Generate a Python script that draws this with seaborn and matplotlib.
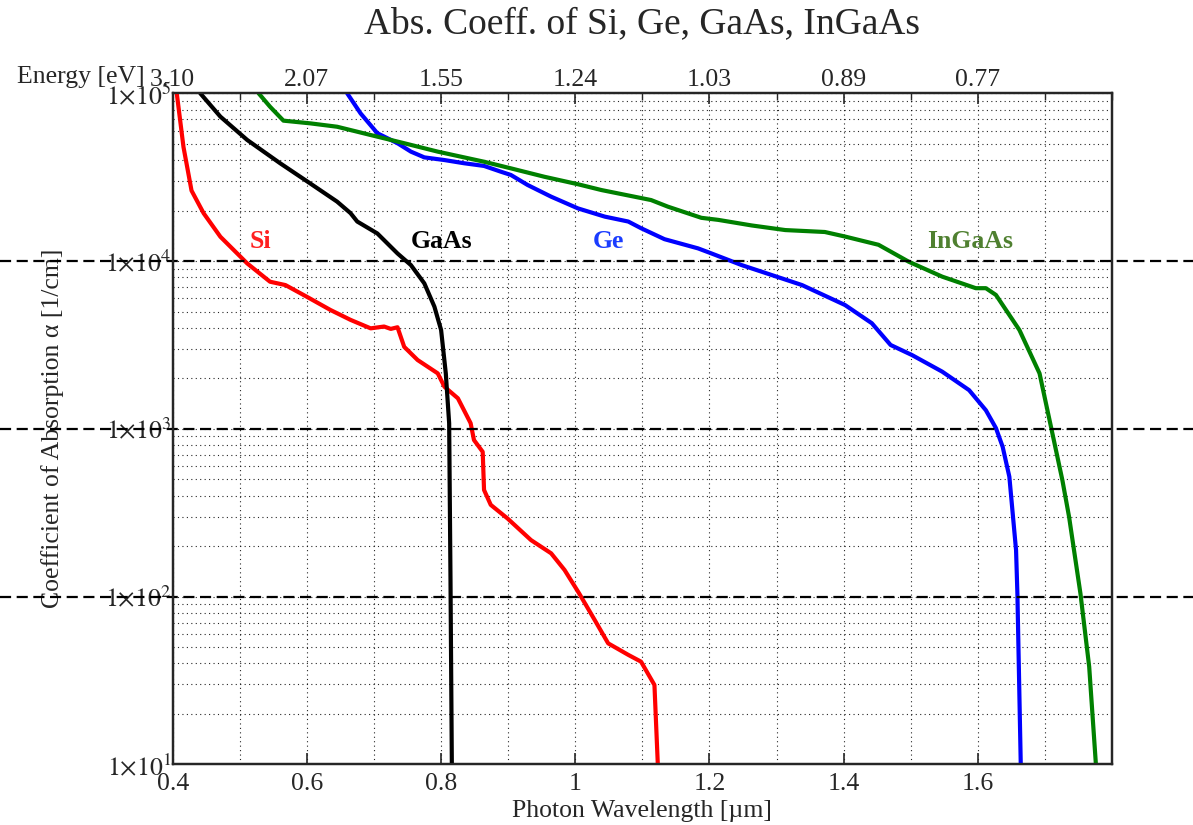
import numpy as np
import pandas as pd
import matplotlib
matplotlib.use("Agg")
import matplotlib.pyplot as plt
import matplotlib.ticker as mticker
import seaborn as sns

# ---------------- data ----------------
si_wl = [0.406, 0.416, 0.428, 0.446, 0.471, 0.511, 0.545, 0.568, 0.600, 0.635, 0.665, 0.695,
         0.715, 0.725, 0.735, 0.745, 0.765, 0.795, 0.805, 0.825, 0.844, 0.849, 0.862, 0.864,
         0.874, 0.899, 0.934, 0.964, 0.984, 1.006, 1.029, 1.049, 1.079, 1.098, 1.118, 1.123, 1.124]
si_alpha = [100000, 47860, 26300, 19280, 13960, 9680, 7530, 7190, 6120, 5110, 4460, 3970,
            4070, 3940, 4030, 3080, 2570, 2140, 1780, 1520, 1080, 857, 729, 432,
            352, 292, 217, 181, 144, 104, 72.4, 52.6, 44.9, 40.9, 29.7, 10, 8]

gaas_wl = [0.441, 0.471, 0.511, 0.560, 0.605, 0.645, 0.665, 0.675, 0.705, 0.735, 0.755, 0.775,
           0.790, 0.800, 0.807, 0.812, 0.814, 0.816, 0.817]
gaas_alpha = [100000, 72600, 52700, 38300, 29000, 22600, 19300, 17200, 14600, 11100, 9460, 7360,
              5350, 3880, 2140, 1080, 126, 10, 8]

ge_wl = [0.660, 0.680, 0.705, 0.735, 0.755, 0.775, 0.805, 0.834, 0.864, 0.889, 0.904, 0.929,
         0.964, 1.004, 1.044, 1.079, 1.098, 1.133, 1.183, 1.203, 1.248, 1.338, 1.402, 1.442,
         1.470, 1.502, 1.547, 1.587, 1.612, 1.627, 1.637, 1.647, 1.657, 1.659, 1.664, 1.665]
ge_alpha = [100000, 75900, 57800, 50400, 44900, 41500, 40000, 38300, 36900, 34100, 32600, 28400,
            24200, 20600, 18400, 17200, 15700, 13500, 11900, 11100, 9460, 7190, 5470, 4260,
            3160, 2750, 2190, 1700, 1290, 1010, 782, 518, 189, 104, 10, 8]

ingaas_wl = [0.528, 0.545, 0.565, 0.605, 0.645, 0.695, 0.745, 0.795, 0.864, 0.904, 0.954, 1.004,
             1.039, 1.113, 1.138, 1.188, 1.213, 1.263, 1.313, 1.372, 1.402, 1.452, 1.497, 1.547,
             1.597, 1.612, 1.627, 1.662, 1.692, 1.709, 1.726, 1.736, 1.753, 1.766, 1.776, 1.778]
ingaas_alpha = [100000, 83200, 68700, 66200, 63200, 56400, 50400, 44900, 39100, 35700, 31800, 28700,
                26500, 23100, 21100, 18100, 17600, 16300, 15300, 14900, 14000, 12500, 9910, 8070,
                6890, 6890, 6280, 3880, 2140, 1030, 495, 299, 104, 38.2, 10, 8]

materials = ["Si", "GaAs", "Ge", "InGaAs"]
colors = {"Si": "#ff0000", "GaAs": "#000000", "Ge": "#0000ff", "InGaAs": "#008000"}
label_colors = {"Si": "#ff2020", "GaAs": "#000000", "Ge": "#1a3cff", "InGaAs": "#4f8030"}
label_pos = {"Si": (0.530, 13000), "GaAs": (0.800, 13000), "Ge": (1.050, 13000), "InGaAs": (1.589, 13000)}

wl_ticks = [0.4, 0.6, 0.8, 1.0, 1.2, 1.4, 1.6]
wl_ticklabels = ["0.4", "0.6", "0.8", "1", "1.2", "1.4", "1.6"]
energy_ticklabels = ["3.10", "2.07", "1.55", "1.24", "1.03", "0.89", "0.77"]
ref_lines = [1e4, 1e3, 1e2]

frames = []
for name, wl, al in [("Si", si_wl, si_alpha), ("GaAs", gaas_wl, gaas_alpha),
                     ("Ge", ge_wl, ge_alpha), ("InGaAs", ingaas_wl, ingaas_alpha)]:
    frames.append(pd.DataFrame({"wl": wl, "alpha": al, "mat": name}))
df = pd.concat(frames, ignore_index=True)

# ---------------- style ----------------
sns.set_style("white")
plt.rcParams["font.family"] = ["Liberation Serif", "DejaVu Serif"]
plt.rcParams["mathtext.fontset"] = "stix"

FS = 18.5

fig = plt.figure(figsize=(11.93, 8.25), dpi=100)
ax = fig.add_axes([0.1448, 0.0736, 0.7873, 0.8133])

ax.set_yscale("log")
ax.set_xlim(0.4, 1.8)
ax.set_ylim(10, 1e5)

# grid
ax.xaxis.set_minor_locator(mticker.MultipleLocator(0.1))
ax.yaxis.set_minor_locator(mticker.LogLocator(base=10, subs=np.arange(2, 10)))
ax.grid(True, which="both", linestyle=(0, (1, 3)), color="black", linewidth=0.8, alpha=0.85)

sns.lineplot(data=df, x="wl", y="alpha", hue="mat", hue_order=materials, palette=colors,
             estimator=None, sort=False, linewidth=3, legend=False, ax=ax, zorder=3)

for y in ref_lines:
    ax.axhline(y, xmin=-0.184, xmax=1.086, color="black", linestyle=(0, (5, 2.5)),
               linewidth=1.6, clip_on=False, zorder=4)

for name in materials:
    x, y = label_pos[name]
    ax.text(x, y, name, color=label_colors[name], fontsize=18.5, fontweight="bold",
            ha="center", va="center", zorder=5)

ax.set_xticks(wl_ticks)
ax.set_xticklabels(wl_ticklabels)
ax.set_yticks([1e1, 1e2, 1e3, 1e4, 1e5])
ax.set_yticklabels([r"$1{\times}10^{%d}$" % k for k in range(1, 6)])
ax.tick_params(axis="both", which="major", direction="in", length=8, width=1.2,
               labelsize=FS, top=False, right=True)
ax.tick_params(axis="x", which="major", pad=6)
ax.tick_params(axis="y", which="major", pad=1)
ax.tick_params(axis="both", which="minor", direction="in", length=0)
for s in ax.spines.values():
    s.set_linewidth(1.6)
    s.set_color("black")

ax.set_xlabel("Photon Wavelength [µm]", fontsize=FS, labelpad=4)
ax.set_ylabel("Coefficient of Absorption α [1/cm]", fontsize=FS)
ax.yaxis.set_label_coords(-0.116, 0.5)

# top energy axis
ax2 = ax.twiny()
ax2.set_xlim(ax.get_xlim())
ax2.set_xticks(wl_ticks)
ax2.set_xticklabels(energy_ticklabels)
ax2.xaxis.set_minor_locator(mticker.MultipleLocator(0.1))
ax2.tick_params(axis="x", which="major", direction="in", length=8, width=1.2, labelsize=FS, pad=2)
ax2.tick_params(axis="x", which="minor", direction="in", length=5, width=1.0)
for s in ax2.spines.values():
    s.set_linewidth(1.6)

fig.text(17 / 1193, 1 - 77 / 825, "Energy [eV]", fontsize=FS, ha="left", va="center")
fig.text(642 / 1193, 1 - 24 / 825, "Abs. Coeff. of Si, Ge, GaAs, InGaAs", fontsize=27,
         ha="center", va="center")

fig.savefig("out.png", dpi=100)
